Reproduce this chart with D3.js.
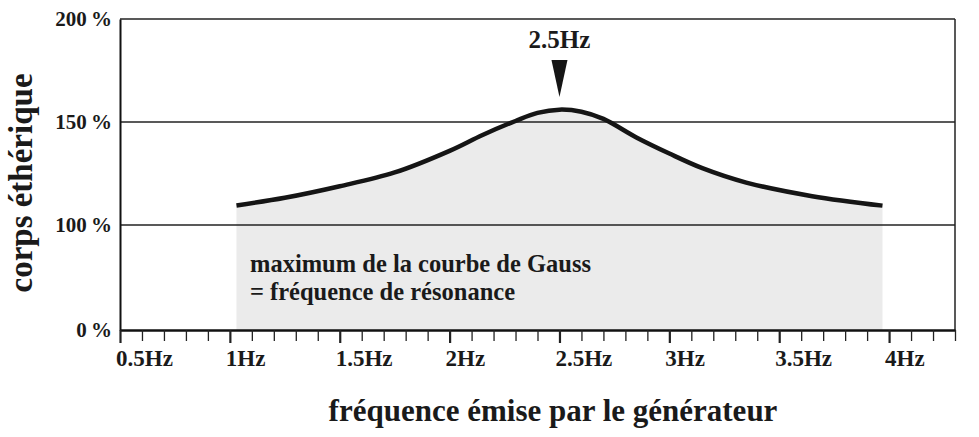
<!DOCTYPE html>
<html>
<head>
<meta charset="utf-8">
<script src="https://cdn.jsdelivr.net/npm/d3@7"></script>
<style>
  body { margin: 0; background: #fff; }
  text { font-family: "Liberation Serif", "Times New Roman", serif; font-weight: bold; fill: #1a1a1a; }
</style>
</head>
<body>
<div id="wrapper"></div>
<script>
// curve values (Hz -> % corps éthérique)
const freqs = [1.03, 1.25, 1.5, 1.75, 2.0, 2.15, 2.3, 2.4, 2.5, 2.6, 2.7, 2.85, 3.0, 3.15, 3.35, 3.65, 3.97]
const percents = [109.5, 113.2, 118.8, 125.5, 136, 143.7, 150.5, 154.4, 156, 155, 151.5, 142.5, 134.7, 127.6, 120.6, 114, 109.4]
const yTicks = [0, 100, 150, 200]
const xLabels = [0.5, 1, 1.5, 2, 2.5, 3, 3.5, 4]
const peakFreq = 2.5
const noteLines = ["maximum de la courbe de Gauss", "= fréquence de résonance"]

const dimensions = {
  width: 979,
  height: 437,
  margin: { top: 19, right: 24, bottom: 107, left: 120 },
}
dimensions.boundedWidth = dimensions.width - dimensions.margin.left - dimensions.margin.right
dimensions.boundedHeight = dimensions.height - dimensions.margin.top - dimensions.margin.bottom

const data = freqs.map((f, i) => ({ f: f, p: percents[i] }))

const svg = d3.select("#wrapper").append("svg")
  .attr("width", dimensions.width)
  .attr("height", dimensions.height)

const bounds = svg.append("g")
  .attr("transform", `translate(${dimensions.margin.left}, ${dimensions.margin.top})`)

const xScale = d3.scaleLinear()
  .domain([0.5, 4.3])
  .range([0, dimensions.boundedWidth])

// the 0-100% part of the axis is squeezed in the original
const yScale = d3.scaleLinear()
  .domain([0, 100, 200])
  .range([dimensions.boundedHeight, dimensions.boundedHeight - 105, 0])

const smooth = d3.curveCatmullRom.alpha(0.5)

// shaded area under the curve
const area = d3.area()
  .x(d => xScale(d.f))
  .y0(yScale(0))
  .y1(d => yScale(d.p))
  .curve(smooth)

bounds.append("path")
  .datum(data)
  .attr("d", area)
  .attr("fill", "#ebebeb")

// grid lines + frame
bounds.append("g")
  .selectAll("line")
  .data([100, 150, 200])
  .join("line")
  .attr("x1", 0)
  .attr("x2", dimensions.boundedWidth)
  .attr("y1", d => yScale(d))
  .attr("y2", d => yScale(d))
  .attr("stroke", "#222")
  .attr("stroke-width", 1.5)

bounds.append("line")
  .attr("x1", dimensions.boundedWidth).attr("x2", dimensions.boundedWidth)
  .attr("y1", 0).attr("y2", dimensions.boundedHeight)
  .attr("stroke", "#222").attr("stroke-width", 1.5)

// curve
const line = d3.line()
  .x(d => xScale(d.f))
  .y(d => yScale(d.p))
  .curve(smooth)

bounds.append("path")
  .datum(data)
  .attr("d", line)
  .attr("fill", "none")
  .attr("stroke", "#151515")
  .attr("stroke-width", 4.5)

// y axis
const yAxis = bounds.append("g")
  .call(d3.axisLeft(yScale).tickValues(yTicks).tickSize(0).tickPadding(8).tickFormat(d => d + "\u2009%"))
yAxis.select(".domain").attr("stroke", "#111").attr("stroke-width", 2)
yAxis.selectAll("text")
  .style("font-family", '"Liberation Serif", serif')
  .style("font-weight", "bold")
  .style("font-size", "21px")
  .attr("fill", "#1a1a1a")

// x axis: minor ticks every 0.1Hz
const isMajor = d => Math.abs(d * 2 - Math.round(d * 2)) < 1e-6
const minorTicks = d3.range(5, 44).map(d => d / 10)
const xAxis = bounds.append("g")
  .attr("transform", `translate(0, ${dimensions.boundedHeight})`)
  .call(d3.axisBottom(xScale).tickValues(minorTicks).tickSize(11).tickSizeOuter(0).tickFormat(""))
xAxis.select(".domain").attr("stroke", "#111").attr("stroke-width", 2.5)
xAxis.selectAll(".tick line")
  .attr("stroke", "#222")
  .attr("stroke-width", d => isMajor(d) ? 2.2 : 1.3)
  .attr("y2", d => isMajor(d) ? 13 : 11)

bounds.append("g")
  .selectAll("text")
  .data(xLabels)
  .join("text")
  .attr("x", d => xScale(d) - 4)
  .attr("y", dimensions.boundedHeight + 36)
  .style("font-size", "23px")
  .text(d => d + "Hz")

// peak marker
const px = xScale(peakFreq)
bounds.append("path")
  .attr("d", `M${px - 8},${41} L${px + 8},${41} L${px},${78} Z`)
  .attr("fill", "#151515")

bounds.append("text")
  .attr("x", px)
  .attr("y", 29)
  .attr("text-anchor", "middle")
  .style("font-size", "25px")
  .text(peakFreq + "Hz")

// note inside the plot
bounds.append("g")
  .selectAll("text")
  .data(noteLines)
  .join("text")
  .attr("x", 130)
  .attr("y", (d, i) => 253 + i * 28)
  .style("font-size", "24.5px")
  .text(d => d)

// axis titles
svg.append("text")
  .attr("transform", `translate(32, 183) rotate(-90)`)
  .attr("text-anchor", "middle")
  .style("font-size", "33px")
  .text("corps éthérique")

svg.append("text")
  .attr("x", 553)
  .attr("y", 421)
  .attr("text-anchor", "middle")
  .style("font-size", "31px")
  .text("fréquence émise par le générateur")
</script>
</body>
</html>
